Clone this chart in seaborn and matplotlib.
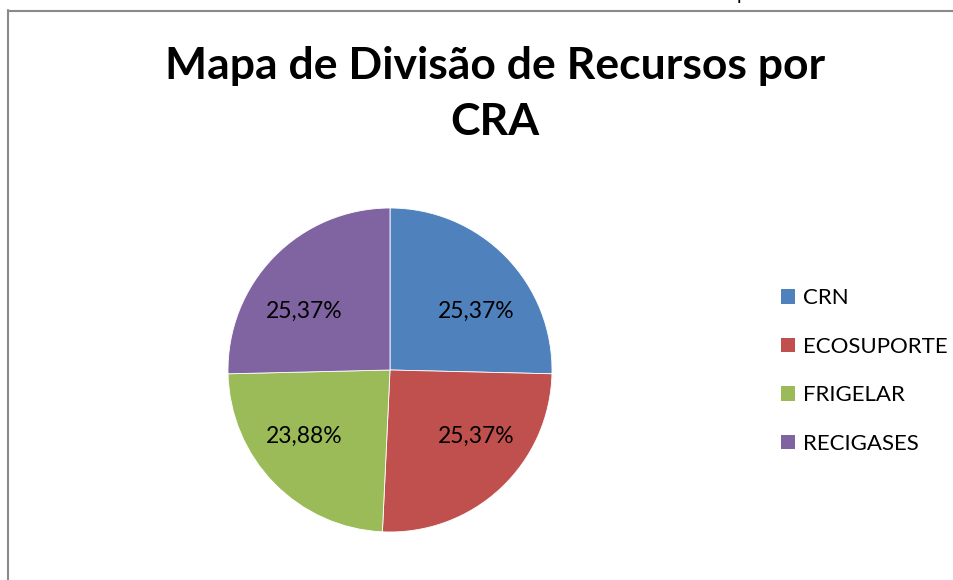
import matplotlib
matplotlib.use("Agg")
import matplotlib.pyplot as plt
import seaborn as sns
from matplotlib.lines import Line2D
from matplotlib.patches import Patch
import numpy as np

# data
categories = ["CRN", "ECOSUPORTE", "FRIGELAR", "RECIGASES"]
counts = [17, 17, 16, 17]
colors = ["#4F81BD", "#C0504D", "#9BBB59", "#8064A2"]

sns.set_theme(style="white")
plt.rcParams["font.family"] = ["Lato", "DejaVu Sans"]
plt.rcParams["text.color"] = "black"

W, H = 954, 580
fig = plt.figure(figsize=(W / 100, H / 100), dpi=100)

# pie axes, center ~ (390, 370) px, radius ~ 162 px
cx, cy, r = 390, 370, 162
ax = fig.add_axes([(cx - r) / W, (H - cy - r) / H, 2 * r / W, 2 * r / H])
pal = sns.color_palette(colors)

wedges, texts, autotexts = ax.pie(
    counts, colors=pal, startangle=90, counterclock=False, radius=1,
    autopct=lambda p: f"{p:.2f}%".replace(".", ","), pctdistance=0.64,
    wedgeprops=dict(edgecolor="white", linewidth=0.6),
    textprops=dict(fontsize=16.5, color="black"))
# Excel-like label placement inside each quarter
for t in autotexts:
    x, y = t.get_position()
    t.set_position((np.sign(x) * 0.53, np.sign(y) * 0.385 - 0.025))
ax.set_xlim(-1, 1)
ax.set_ylim(-1, 1)
ax.set_aspect("equal")
ax.axis("off")

# title
fig.text(495 / W, 1 - 66 / H, "Mapa de Divisão de Recursos por", ha="center", va="center",
         fontsize=32, fontweight="bold", color="black")
fig.text(495 / W, 1 - 122 / H, "CRA", ha="center", va="center",
         fontsize=32, fontweight="bold", color="black")

# legend
handles = [Patch(facecolor=c, edgecolor="none") for c in colors]
leg = ax.legend(handles, categories, loc="center left", bbox_to_anchor=(781 / W, 1 - 371 / H),
                bbox_transform=fig.transFigure, frameon=False, fontsize=16,
                handlelength=0.63, handleheight=0.63, handletextpad=0.35,
                labelspacing=1.28, borderpad=0, borderaxespad=0)
for t in leg.get_texts():
    t.set_color("black")

# chart frame (partially visible)
fig.add_artist(Line2D([8.5 / W, 8.5 / W], [0, 1 - 10 / H], color="#8a8a8a", lw=1.5,
                      transform=fig.transFigure))
fig.add_artist(Line2D([8 / W, 1], [1 - 10.5 / H, 1 - 10.5 / H], color="#8a8a8a", lw=1.5,
                      transform=fig.transFigure))
fig.text(742 / W, 1 - 0 / H, "p", ha="center", va="baseline", fontsize=14)

fig.savefig("out.png", dpi=100, facecolor="white")
